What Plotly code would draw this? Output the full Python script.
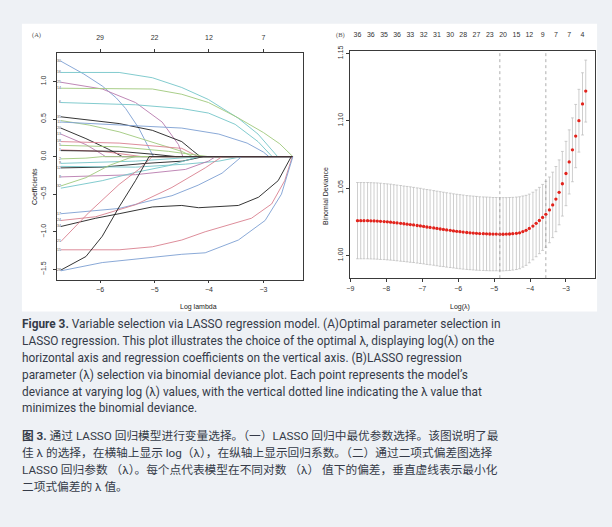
import plotly.graph_objects as go

W, H = 612, 527

# ---------------------------------------------------------------
# (A) percorsi dei coefficienti LASSO: (log lambda, coefficiente)
# ---------------------------------------------------------------
A_END = -2.46  # ultimo log lambda del percorso

v30 = ([-6.72, -6.30, -5.96, -5.70, -5.53, -5.29, -5.10, -5.02], [1.27, 1.10, 0.94, 0.78, 0.64, 0.38, 0.11, 0.0])
v16 = ([-6.72, -5.65, -5.04, -4.50, -4.01, -3.46, -3.10, -2.90, -2.74], [1.12, 1.12, 1.05, 0.92, 0.76, 0.51, 0.30, 0.14, 0.0])
v25 = ([-6.72, -5.96, -5.35, -4.86, -4.56, -4.48], [0.99, 0.90, 0.72, 0.46, 0.16, 0.0])
v14 = ([-6.72, -5.04, -4.50, -4.01, -3.50, -3.00, -2.70, -2.46], [0.91, 0.90, 0.83, 0.72, 0.53, 0.32, 0.17, 0.0])
v6 = ([-6.72, -5.35, -4.50, -4.01, -3.52, -3.10, -2.84], [0.72, 0.69, 0.64, 0.58, 0.43, 0.20, 0.0])
v35 = ([-6.72, -5.65, -5.04, -4.50, -4.30, -4.16], [0.53, 0.44, 0.35, 0.20, 0.08, 0.0])
v29 = ([-6.72, -6.20, -5.65, -4.50, -4.30], [0.48, 0.42, 0.33, 0.07, 0.0])
v11 = ([-6.72, -5.50, -4.50, -3.82, -3.30, -3.00, -2.90], [0.46, 0.42, 0.38, 0.30, 0.18, 0.06, 0.0])
v20 = ([-6.72, -6.26, -5.85, -5.59], [0.38, 0.24, 0.10, 0.0])
v13 = ([-6.72, -6.26, -5.96, -5.90], [0.30, 0.16, 0.03, 0.0])
v18 = ([-6.72, -5.65, -4.50, -4.20], [0.20, 0.18, 0.11, 0.0])
v5 = ([-6.72, -5.65, -4.74, -4.01], [0.15, 0.13, 0.07, 0.0])
v1 = ([-6.72, -5.96, -5.23], [0.09, 0.07, 0.0])
v3 = ([-6.72, -5.65, -5.00, -4.60], [0.08, 0.07, 0.03, 0.0])
v2 = ([-6.72, -6.26, -5.96], [-0.03, -0.02, 0.0])
v9 = ([-6.72, -5.35, -4.13], [-0.09, -0.06, 0.0])
v12 = ([-6.72, -5.96, -5.16, -4.49, -4.10], [-0.15, -0.14, -0.09, -0.06, 0.0])
v10 = ([-6.72, -5.35, -4.43, -3.82, -3.40], [-0.13, -0.14, -0.10, -0.06, 0.0])
v8 = ([-6.72, -5.35, -4.43, -4.01, -3.88], [-0.27, -0.24, -0.17, -0.06, 0.0])
v32 = ([-6.72, -6.26, -5.84, -5.47, -5.35], [-0.39, -0.28, -0.12, -0.02, 0.0])
v33 = ([-6.72, -5.96, -5.35, -4.74, -4.19], [-0.42, -0.32, -0.21, -0.12, 0.0])
v17 = ([-6.72, -5.65, -5.04, -4.68, -4.20, -3.76, -3.40], [-0.76, -0.69, -0.58, -0.52, -0.38, -0.22, 0.0])
v24 = ([-6.72, -6.08, -5.35, -4.68, -4.07, -3.76], [-0.85, -0.80, -0.64, -0.41, -0.15, 0.0])
v34 = ([-6.72, -6.08, -5.65, -5.04, -4.50, -4.19, -3.46, -3.09, -2.73, -2.54, -2.49],
       [-0.93, -0.82, -0.76, -0.67, -0.65, -0.68, -0.65, -0.54, -0.32, -0.06, 0.0])
v21 = ([-6.72, -6.20, -5.65, -5.29, -5.04], [-1.13, -0.74, -0.37, -0.17, 0.0])
v15 = ([-6.72, -5.65, -5.04, -4.50, -4.07, -3.22, -2.85, -2.61, -2.47], [-1.24, -1.24, -1.20, -1.11, -1.00, -0.82, -0.63, -0.32, 0.0])
v28 = ([-6.72, -6.26, -5.96, -5.65, -5.35, -5.10], [-1.51, -1.33, -1.06, -0.67, -0.32, 0.0])
v26 = ([-6.72, -5.96, -4.50, -4.07, -3.46, -2.97, -2.67, -2.52, -2.46], [-1.52, -1.41, -1.30, -1.28, -1.11, -0.85, -0.50, -0.15, 0.0])

# numero di variabili non nulle (asse superiore)
A_DF_TICKS = [-6, -5, -4, -3]
A_DF_LABELS = ["29", "22", "12", "7"]

# ---------------------------------------------------------------
# (B) devianza binomiale in cross-validation
# ---------------------------------------------------------------
cv_loglam = [-8.80, -8.71, -8.62, -8.52, -8.43, -8.34, -8.25, -8.16, -8.06, -7.97,
             -7.88, -7.79, -7.70, -7.60, -7.51, -7.42, -7.33, -7.24, -7.14, -7.05,
             -6.96, -6.87, -6.78, -6.68, -6.59, -6.50, -6.41, -6.32, -6.22, -6.13,
             -6.04, -5.95, -5.86, -5.76, -5.67, -5.58, -5.49, -5.40, -5.30, -5.21,
             -5.12, -5.03, -4.94, -4.84, -4.75, -4.66, -4.57, -4.48, -4.38, -4.29,
             -4.20, -4.11, -4.02, -3.92, -3.83, -3.74, -3.65, -3.56, -3.46, -3.37,
             -3.28, -3.19, -3.10, -3.00, -2.91, -2.82, -2.73, -2.64, -2.54, -2.45]
cv_mean = [1.0258, 1.0258, 1.0258, 1.0258, 1.0257, 1.0256, 1.0255, 1.0253, 1.0251, 1.0249,
           1.0247, 1.0244, 1.0241, 1.0238, 1.0235, 1.0232, 1.0229, 1.0226, 1.0222, 1.0219,
           1.0215, 1.0211, 1.0208, 1.0204, 1.0200, 1.0196, 1.0193, 1.0189, 1.0186, 1.0182,
           1.0179, 1.0176, 1.0173, 1.0170, 1.0168, 1.0166, 1.0164, 1.0162, 1.0161, 1.0160,
           1.0159, 1.0158, 1.0158, 1.0157, 1.0157, 1.0158, 1.0159, 1.0161, 1.0164, 1.0168,
           1.0177, 1.0186, 1.0200, 1.0218, 1.0238, 1.0259, 1.0282, 1.0305, 1.0338, 1.0375,
           1.0418, 1.0468, 1.0532, 1.0608, 1.0694, 1.0784, 1.0886, 1.1000, 1.1125, 1.1220]
cv_se = [0.0283, 0.0283, 0.0283, 0.0283, 0.0283, 0.0283, 0.0283, 0.0283, 0.0282, 0.0282,
         0.0282, 0.0281, 0.0281, 0.0281, 0.0280, 0.0280, 0.0280, 0.0279, 0.0279, 0.0279,
         0.0278, 0.0278, 0.0278, 0.0277, 0.0277, 0.0277, 0.0276, 0.0276, 0.0276, 0.0275,
         0.0275, 0.0275, 0.0275, 0.0274, 0.0274, 0.0274, 0.0274, 0.0273, 0.0273, 0.0273,
         0.0273, 0.0272, 0.0272, 0.0272, 0.0272, 0.0271, 0.0271, 0.0270, 0.0269, 0.0267,
         0.0264, 0.0260, 0.0255, 0.0251, 0.0248, 0.0246, 0.0245, 0.0245, 0.0244, 0.0243,
         0.0242, 0.0241, 0.0240, 0.0239, 0.0238, 0.0237, 0.0235, 0.0233, 0.0231, 0.0230]
# etichette superiori, una ogni quattro lambda
cv_nz = ["36", "36", "35", "36", "33", "32", "31", "30", "28",
         "27", "23", "20", "15", "12", "9", "7", "7", "4"]
LOG_LAMBDA_MIN = -4.84
LOG_LAMBDA_1SE = -3.56

CAPTION_EN = [
    "<b>Figure 3.</b> Variable selection via LASSO regression model. (A)Optimal parameter selection in",
    "LASSO regression. This plot illustrates the choice of the optimal λ, displaying log(λ) on the",
    "horizontal axis and regression coefficients on the vertical axis. (B)LASSO regression",
    "parameter (λ) selection via binomial deviance plot. Each point represents the model’s",
    "deviance at varying log (λ) values, with the vertical dotted line indicating the λ value that",
    "minimizes the binomial deviance.",
]
CAPTION_ZH = [
    "<b>图 3.</b> 通过 LASSO 回归模型进行变量选择。（一）LASSO 回归中最优参数选择。该图说明了最",
    "佳 λ 的选择，在横轴上显示 log（λ），在纵轴上显示回归系数。（二）通过二项式偏差图选择",
    "LASSO 回归参数 （λ）。每个点代表模型在不同对数 （λ） 值下的偏差，垂直虚线表示最小化",
    "二项式偏差的 λ 值。",
]

# colori tipo palette di R (schiariti come nell'immagine)
BLACK, RED, GREEN = "#1e1e1e", "#d9808f", "#9fc87c"
BLUE, CYAN, MAGENTA = "#7d9fd3", "#74c5c8", "#b87aae"

# (etichetta, percorso, colore, etichetta visibile a sinistra)
PATHS = [
    ("30", v30, BLUE, True), ("16", v16, CYAN, True), ("25", v25, MAGENTA, True),
    ("14", v14, GREEN, True), ("6", v6, CYAN, True), ("35", v35, BLACK, True),
    ("29", v29, GREEN, False), ("11", v11, BLUE, True), ("20", v20, BLACK, True),
    ("13", v13, MAGENTA, True), ("18", v18, RED, True), ("5", v5, GREEN, True),
    ("1", v1, RED, True), ("3", v3, BLACK, False), ("2", v2, GREEN, True),
    ("9", v9, CYAN, True), ("12", v12, BLACK, True), ("10", v10, CYAN, False),
    ("8", v8, MAGENTA, True), ("32", v32, GREEN, True), ("33", v33, CYAN, False),
    ("17", v17, BLUE, True), ("24", v24, RED, True), ("34", v34, BLACK, True),
    ("21", v21, RED, True), ("15", v15, RED, True), ("28", v28, BLACK, True),
    ("26", v26, BLUE, False),
]


def px_x(p):
    return p / W


def px_y(p):
    return 1 - p / H


TICK_FONT = dict(family="Liberation Sans, Arial", size=7, color="#333333")
AX_COMMON = dict(showline=True, mirror=True, linecolor="#3a3a3a", linewidth=0.8,
                 ticks="outside", ticklen=3, tickwidth=0.7, tickcolor="#3a3a3a",
                 showgrid=False, zeroline=False, tickfont=TICK_FONT)

fig = go.Figure()

# pannello A
for name, (xs, ys), color, _ in PATHS:
    xs, ys = list(xs), list(ys)
    if xs[-1] < A_END:
        xs.append(A_END)
        ys.append(0.0)
    fig.add_trace(go.Scatter(x=xs, y=ys, mode="lines", line=dict(color=color, width=0.9),
                             xaxis="x", yaxis="y", showlegend=False, hoverinfo="skip"))

labelled = [p for p in PATHS if p[3]]
fig.add_trace(go.Scatter(
    x=[p[1][0][0] for p in labelled], y=[p[1][1][0] for p in labelled],
    text=[p[0] for p in labelled], mode="text", textposition="middle left",
    textfont=dict(family="Liberation Sans", size=3.5, color="#555555"),
    cliponaxis=False, xaxis="x", yaxis="y", showlegend=False, hoverinfo="skip"))

fig.add_trace(go.Scatter(x=A_DF_TICKS, y=[None] * len(A_DF_TICKS), mode="markers",
                         xaxis="x3", yaxis="y", showlegend=False, hoverinfo="skip"))

# pannello B
fig.add_trace(go.Scatter(
    x=cv_loglam, y=cv_mean, mode="markers",
    marker=dict(color="#e2231c", size=3.3, line=dict(width=0)),
    error_y=dict(type="data", array=cv_se, visible=True, color="#b9b9b9", thickness=0.7, width=1.4),
    xaxis="x2", yaxis="y2", showlegend=False, hoverinfo="skip"))

fig.add_trace(go.Scatter(x=cv_loglam[::4], y=[None] * len(cv_nz), mode="markers",
                         xaxis="x4", yaxis="y2", showlegend=False, hoverinfo="skip"))

for xv in (LOG_LAMBDA_MIN, LOG_LAMBDA_1SE):
    fig.add_shape(type="line", xref="x2", yref="y2 domain", x0=xv, x1=xv, y0=0, y1=1,
                  line=dict(color="#8c8c8c", width=0.7, dash="dot"))

# riquadro bianco dell'immagine
fig.add_shape(type="rect", xref="paper", yref="paper", layer="below",
              x0=px_x(19), x1=px_x(597), y0=px_y(309), y1=px_y(18),
              fillcolor="white", line=dict(width=0))

fig.update_layout(
    width=W, height=H,
    margin=dict(l=0, r=0, t=0, b=0),
    paper_bgcolor="#eef1f5", plot_bgcolor="white",
    xaxis=dict(domain=[px_x(54.3), px_x(301.7)], range=[-6.79, -2.27], anchor="y",
               dtick=1, tick0=-6, ticklabelstandoff=0, **AX_COMMON),
    yaxis=dict(domain=[px_y(276.7), px_y(47.7)], range=[-1.636, 1.377], anchor="x",
               dtick=0.5, tick0=0, tickformat=".1f", tickangle=-90, ticklabelstandoff=4, **AX_COMMON),
    xaxis3=dict(overlaying="x", side="top", anchor="y", range=[-6.79, -2.27],
                tickvals=A_DF_TICKS, ticktext=A_DF_LABELS, ticks="outside", ticklen=3,
                tickwidth=0.7, tickcolor="#3a3a3a", showgrid=False, zeroline=False,
                showline=False, tickfont=TICK_FONT, ticklabelstandoff=6),
    xaxis2=dict(domain=[px_x(348.3), px_x(595)], range=[-9.02, -2.19], anchor="y2",
                dtick=1, tick0=-9, ticklabelstandoff=1, **AX_COMMON),
    yaxis2=dict(domain=[px_y(275.3), px_y(46)], range=[0.9831, 1.1514], anchor="x2",
                dtick=0.05, tick0=1.0, tickformat=".2f", tickangle=-90, ticklabelstandoff=0, **AX_COMMON),
    xaxis4=dict(overlaying="x2", side="top", anchor="y2", range=[-9.02, -2.19],
                tickvals=cv_loglam[::4], ticktext=cv_nz, ticks="", showgrid=False,
                zeroline=False, showline=False, tickfont=TICK_FONT, ticklabelstandoff=12),
)

# titoli degli assi e lettere dei pannelli
AX_TITLE_FONT = dict(family="Liberation Sans, Arial", size=7, color="#222222")
for txt, x, y, ang in [("Coefficients", 26, 162, -90), ("Log lambda", 176, 304, 0),
                       ("Binomial Deviance", 324, 160.5, -90), ("Log(λ)", 471, 304, 0)]:
    fig.add_annotation(text=txt, xref="paper", yref="paper", x=px_x(x), y=px_y(y),
                       textangle=ang, showarrow=False, font=AX_TITLE_FONT)
for txt, x in [("(A)", 27), ("(B)", 339)]:
    fig.add_annotation(text=txt, xref="paper", yref="paper", x=px_x(x), y=px_y(23),
                       showarrow=False, font=dict(family="Liberation Serif", size=6.5, color="#555555"))

# didascalia
CAP_EN_FONT = dict(family="Roboto, 'Noto Sans CJK SC'", size=11.85, color="#353b48")
CAP_ZH_FONT = dict(family="Roboto, 'Noto Sans CJK SC'", size=11.7, color="#353b48")
for i, line in enumerate(CAPTION_EN):
    fig.add_annotation(text=line, xref="paper", yref="paper", x=px_x(17), y=px_y(322 + 17 * i),
                       xanchor="left", yanchor="middle", showarrow=False, font=CAP_EN_FONT)
for i, line in enumerate(CAPTION_ZH):
    fig.add_annotation(text=line, xref="paper", yref="paper", x=px_x(17), y=px_y(435 + 17.3 * i),
                       xanchor="left", yanchor="middle", showarrow=False, font=CAP_ZH_FONT)

# niente margine della pagina: la figura parte dall'angolo in alto a sinistra
fig.write_html("out.html", config={"displayModeBar": False}, post_script=(
    "document.body.style.margin='0';"
    "document.body.style.overflow='hidden';"
    "document.body.style.background='#eef1f5';"))
